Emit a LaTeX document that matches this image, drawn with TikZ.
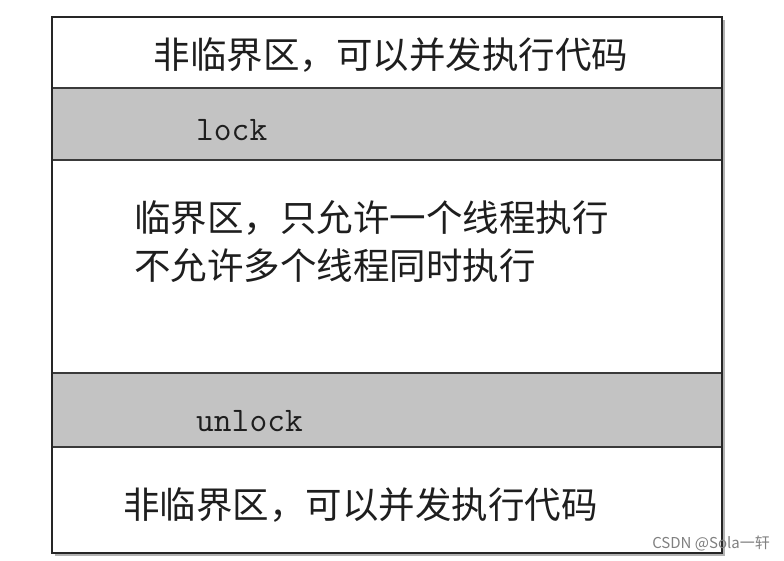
\documentclass[tikz,border=0pt]{standalone}
\usepackage{fontspec}
\newfontfamily\cjk{Noto Sans CJK SC}
\definecolor{bandgray}{HTML}{C3C3C3}
\definecolor{edgegray}{HTML}{3A3A3A}
\definecolor{txt}{HTML}{1E1E1E}
\tikzset{
  zh/.style={font=\cjk\fontsize{36.5}{40}\selectfont, text=txt, inner sep=0pt},
  code/.style={font=\ttfamily\fontsize{34.5}{38}\selectfont, text=txt, inner sep=0pt},
  band/.style={fill=bandgray, draw=none},
  bandline/.style={draw=edgegray, line width=2.4pt},
  frame/.style={draw=black!85, line width=2pt, fill=white},
  wm/.style={font=\cjk\fontsize{15}{18}\selectfont, text=black!50, inner sep=0pt}
}
\begin{document}
\begin{tikzpicture}[x=1pt,y=-1pt]
\useasboundingbox (0,0) rectangle (784,561);
% shadow and frame
\fill[black!30] (55,20) rectangle (725,556);
\draw[frame] (52,17) rectangle (722,553);
% bands
\fill[band] (53,88) rectangle (721,160);
\draw[bandline] (53,88) -- (721,88);
\draw[bandline] (53,160) -- (721,160);
\fill[band] (53,373) rectangle (721,447);
\draw[bandline] (53,373) -- (721,373);
\draw[bandline] (53,447) -- (721,447);
% texts
\node[zh] (top) at (391,55) {非临界区，可以并发执行代码};
\node[code, anchor=base west] (lock) at (196,141) {lock};
\node[zh, anchor=west] (crit1) at (134,218) {临界区，只允许一个线程执行};
\node[zh, anchor=west] (crit2) at (134,266) {不允许多个线程同时执行};
\node[code, anchor=base west] (unlock) at (196,431) {unlock};
\node[zh, anchor=west] (bottom) at (123,505) {非临界区，可以并发执行代码};
\node[wm, anchor=east] (mark) at (770,544) {CSDN @Sola一轩};
\end{tikzpicture}
\end{document}
